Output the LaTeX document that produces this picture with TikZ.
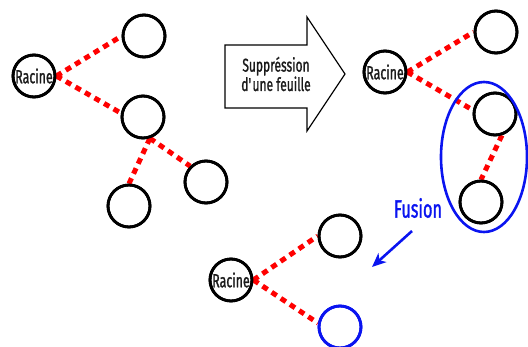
\documentclass[tikz,border=0pt]{standalone}
\usepackage{fontspec}
\setmainfont{Fira Sans}[FakeStretch=0.65, FakeBold=1.2]
\usetikzlibrary{arrows.meta}
\definecolor{ink}{HTML}{1A1A1A}
\definecolor{fblue}{HTML}{0A14F0}
\tikzset{
  treenode/.style={circle, draw=black, line width=2.8pt, minimum size=42pt, inner sep=0pt, fill=white},
  bluenode/.style={treenode, draw=fblue},
  rootlabel/.style={font=\fontsize{19}{19}\selectfont, text=ink},
  link/.style={draw=red, line width=5pt, dash pattern=on 6pt off 5pt},
}
\begin{document}
\begin{tikzpicture}[x=1pt,y=-1pt]
\useasboundingbox (0,0) rectangle (528,346);
% left tree
\node[treenode, rootlabel] (lr) at (34,76) {Racine};
\node[treenode] (l1) at (144,36) {};
\node[treenode] (l2) at (143,117) {};
\node[treenode] (l3) at (129,206) {};
\node[treenode] (l4) at (206,182) {};
% right tree
\node[treenode, rootlabel] (rr) at (385,72) {Racine};
\node[treenode] (r1) at (496,32) {};
\node[treenode] (r2) at (495,114) {};
\node[treenode] (r3) at (481,202) {};
% bottom tree
\node[treenode, rootlabel] (br) at (231,280) {Racine};
\node[treenode] (b1) at (340,236) {};
\node[bluenode] (b2) at (340,327) {};
% links
\path[link] (lr.east) -- (l1.west);
\path[link] (lr.east) -- (l2.170);
\path[link] (l2.-72) -- (l3.north);
\path[link] (l2.-72) -- (l4.135);
\path[link] (rr.east) -- (r1.west);
\path[link] (rr.east) -- (r2.170);
\path[link] (r2.-72) -- (r3.north);
\path[link] (br.east) -- (b1.west);
\path[link] (br.east) -- (b2.170);
% circles on top of link ends
\foreach \n in {lr,rr,br,l1,l2,l3,l4,r1,r2,r3,b1} {\draw[black, line width=2.8pt] (\n) circle (21pt);}
\draw[fblue, line width=2.8pt] (b2) circle (21pt);
% block arrow
\draw[black, line width=1.2pt, line join=miter]
  (225,45) -- (307,45) -- (307,17) -- (345,74) -- (307,131) -- (307,108) -- (225,108) -- cycle;
\node[align=center, text=ink, font=\fontsize{18.5}{15.5}\selectfont] (supp) at (276,74) {Suppréssion\\d\textquotesingle une feuille};
% fusion ellipse
\draw[fblue, line width=2.6pt] (484,157) ellipse [x radius=43, y radius=75];
\node[text=fblue, font=\fontsize{25}{25}\selectfont] (fus) at (418,208) {Fusion};
\coordinate (fa) at (412,231);
\coordinate (fb) at (372,267);
\draw[fblue, line width=2.6pt, -{Stealth[length=14pt,width=12pt,inset=4pt]}] (fa) -- (fb);
\end{tikzpicture}
\end{document}
